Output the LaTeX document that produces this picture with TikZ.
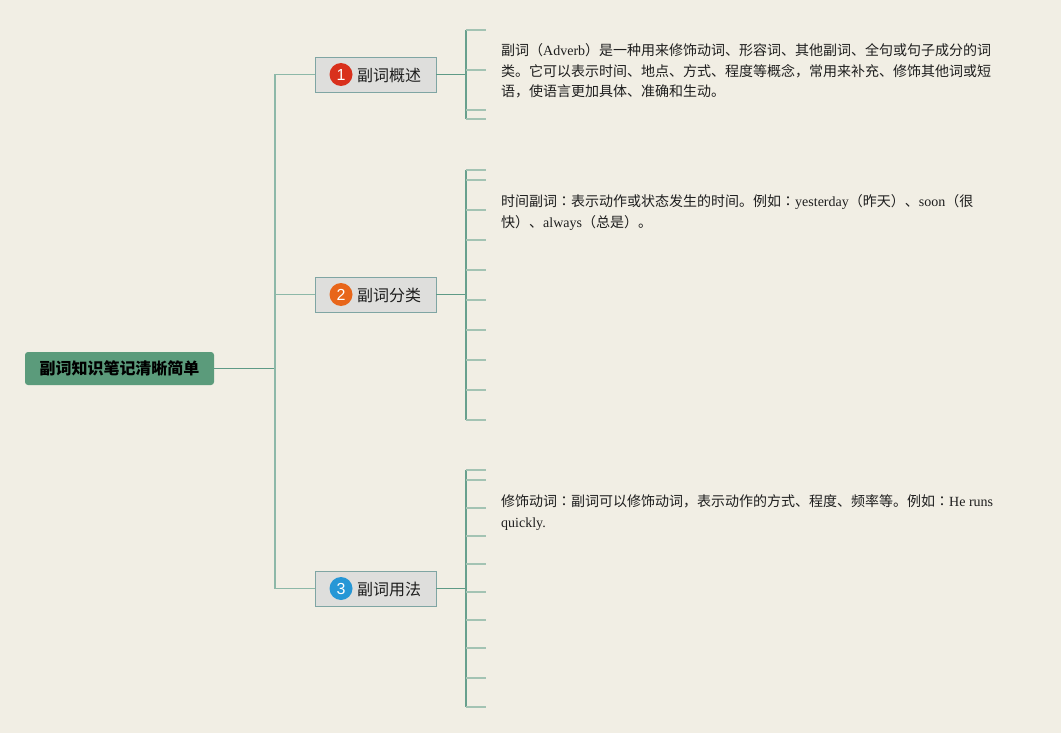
\documentclass[tikz,border=0pt]{standalone}
\usepackage{fontspec}
\setmainfont{Liberation Serif}
\newfontfamily\cjk{Noto Sans CJK SC}
\newfontfamily\cjktc{Noto Sans CJK TC}
\newfontfamily\numfont{Liberation Sans}
\usetikzlibrary{calc}
\definecolor{bgc}{HTML}{F1EEE4}
\definecolor{rootc}{HTML}{5B9B7B}
\definecolor{trunkc}{HTML}{8DB8A8}
\definecolor{linkc}{HTML}{5E9A86}
\definecolor{tickc}{HTML}{A3C3B3}
\definecolor{boxfill}{HTML}{DEDEDC}
\definecolor{boxline}{HTML}{7FA5A3}
\definecolor{redc}{HTML}{D9301C}
\definecolor{orangec}{HTML}{E8661A}
\definecolor{bluec}{HTML}{2697D6}
\definecolor{textc}{HTML}{1E1E1E}
\newcommand{\cc}{{\cjktc ：}}
\tikzset{
  rootbox/.style={fill=rootc, rounded corners=3pt, minimum width=189pt, minimum height=33pt, inner sep=0pt, font=\fontsize{16}{18}\selectfont\cjk\bfseries, text=black},
  topicbox/.style={fill=boxfill, draw=boxline, line width=0.9pt, minimum width=121pt, minimum height=35pt, inner sep=0pt},
  numdot/.style={circle, minimum size=23pt, inner sep=0pt, text=white, font=\fontsize{16}{16}\selectfont\numfont},
  topictext/.style={font=\fontsize{16}{18}\selectfont\cjk, text=textc, inner sep=0pt, anchor=west},
  trunk/.style={draw=trunkc, line width=1.3pt},
  link/.style={draw=linkc, line width=1.6pt},
  vline/.style={draw=linkc!85!tickc, line width=1.6pt},
  tick/.style={draw=tickc, line width=1.5pt},
  note/.style={anchor=north west, inner sep=0pt, align=left, text=textc, font=\fontsize{14}{20.5}\selectfont}
}
\begin{document}
\begin{tikzpicture}[x=1pt,y=-1pt]
\fill[bgc] (0,0) rectangle (1061,733);
\useasboundingbox (0,0) rectangle (1061,733);

% root
\node[rootbox] (root) at (119.5,368.5) {副词知识笔记清晰简单};

% topic boxes
\node[topicbox] (b1) at (375.5,74.5) {};
\node[topicbox] (b2) at (375.5,294.5) {};
\node[topicbox] (b3) at (375.5,588.5) {};

\node[numdot, fill=redc] (n1) at (341,74.5) {1};
\node[numdot, fill=orangec] (n2) at (341,294.5) {2};
\node[numdot, fill=bluec] (n3) at (341,588.5) {3};
\node[topictext] (t1) at (357,75.5) {副词概述};
\node[topictext] (t2) at (357,295.5) {副词分类};
\node[topictext] (t3) at (357,589.5) {副词用法};

% trunk
\coordinate (j) at (275,368.5);
\coordinate (j1) at (275,74.5);
\coordinate (j2) at (275,294.5);
\coordinate (j3) at (275,588.5);
\draw[link] (root.east) -- (j);
\draw[trunk] (j1) -- (j3);
\draw[trunk] (j1) -- (b1.west);
\draw[trunk] (j2) -- (b2.west);
\draw[trunk] (j3) -- (b3.west);

% branch 1
\coordinate (k1) at (466,74.5);
\draw[link] (b1.east) -- (k1);
\draw[vline] (466,30) -- (466,119);
\foreach \y in {30,70,110,119} \draw[tick] (466,\y) -- (486,\y);

% branch 2
\coordinate (k2) at (466,294.5);
\draw[link] (b2.east) -- (k2);
\draw[vline] (466,170) -- (466,420);
\foreach \y in {170,180,210,240,270,300,330,360,390,420} \draw[tick] (466,\y) -- (486,\y);

% branch 3
\coordinate (k3) at (466,588.5);
\draw[link] (b3.east) -- (k3);
\draw[vline] (466,470) -- (466,707);
\foreach \y in {470,480,508,536,564,592,620,648,678,707} \draw[tick] (466,\y) -- (486,\y);

% notes
\node[note] (p1) at (501,43.5) {{\cjk 副词（}Adverb{\cjk ）是一种用来修饰动词、形容词、其他副词、全句或句子成分的词}\\
{\cjk 类。它可以表示时间、地点、方式、程度等概念，常用来补充、修饰其他词或短}\\
{\cjk 语，使语言更加具体、准确和生动。}};

\node[note] (p2) at (501,194.5) {{\cjk 时间副词}\cc{\cjk 表示动作或状态发生的时间。例如}\cc yesterday{\cjk （昨天）、}soon{\cjk （很}\\
{\cjk 快）、}always{\cjk （总是）。}};

\node[note] (p3) at (501,494.5) {{\cjk 修饰动词}\cc{\cjk 副词可以修饰动词，表示动作的方式、程度、频率等。例如}\cc He runs\\
quickly.};
\end{tikzpicture}
\end{document}
